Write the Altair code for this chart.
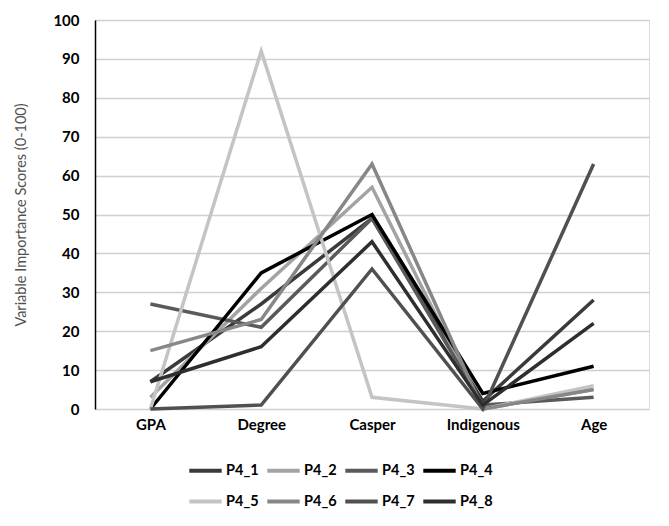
import altair as alt
import pandas as pd

categories = ["GPA", "Degree", "Casper", "Indigenous", "Age"]
series_names = ["P4_1", "P4_2", "P4_3", "P4_4", "P4_5", "P4_6", "P4_7", "P4_8"]
p4_1 = [7, 27, 49, 2, 28]
p4_2 = [3, 31, 57, 0, 5]
p4_3 = [27, 21, 49, 1, 3]
p4_4 = [0, 35, 50, 4, 11]
p4_5 = [0, 92, 3, 0, 6]
p4_6 = [15, 23, 63, 0, 5]
p4_7 = [0, 1, 36, 0, 63]
p4_8 = [7, 16, 43, 1, 22]
series_values = [p4_1, p4_2, p4_3, p4_4, p4_5, p4_6, p4_7, p4_8]
colors = ["#3a3a3a", "#a3a3a3", "#5a5a5a", "#000000", "#c4c4c4", "#878787", "#505050", "#2e2e2e"]

rows = []
for name, vals in zip(series_names, series_values):
    for c, v in zip(categories, vals):
        rows.append({"Variable": c, "Series": name, "Score": v})
df = pd.DataFrame(rows)

FONT = "Lato"

chart = alt.Chart(df).mark_line(strokeWidth=3.5).encode(
    x=alt.X("Variable:N", sort=categories,
            scale=alt.Scale(type="point", padding=0.5),
            axis=alt.Axis(title=None, labelAngle=0, labelFontWeight="bold",
                          labelFontSize=15, labelColor="#000", labelFont=FONT,
                          ticks=False, domain=False, labelPadding=8, grid=False)),
    y=alt.Y("Score:Q", scale=alt.Scale(domain=[0, 100]),
            axis=alt.Axis(title="Variable Importance Scores (0-100)", values=list(range(0, 101, 10)),
                          titleFontWeight="normal", titleFontSize=14.5, titleColor="#505050",
                          titleFont=FONT, titlePadding=24,
                          labelFontWeight="bold", labelFontSize=15, labelColor="#000",
                          labelFont=FONT, labelPadding=16, ticks=False,
                          domainColor="#000", domainWidth=1.5,
                          gridColor="#d0d0d0", gridWidth=1.5)),
    color=alt.Color("Series:N", sort=series_names,
                    scale=alt.Scale(domain=series_names, range=colors),
                    legend=alt.Legend(title=None, orient="none", legendX=92, legendY=432,
                                      direction="horizontal",
                                      columns=4, symbolType="stroke", symbolSize=1050,
                                      symbolStrokeWidth=4, labelFontSize=14.5,
                                      labelFontWeight="bold", labelFont=FONT, labelColor="#000",
                                      columnPadding=0, rowPadding=4, labelOffset=2)),
).properties(width=554, height=389).configure_view(stroke=None).configure(background="white")

chart.save("out.html", embed_options={"renderer": "svg", "actions": False})
